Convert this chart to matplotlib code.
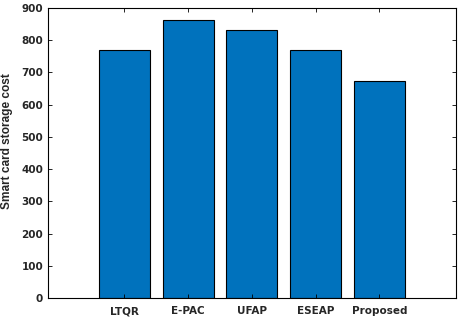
import matplotlib
matplotlib.use("Agg")
import matplotlib.pyplot as plt

categories = ["LTQR", "E-PAC", "UFAP", "ESEAP", "Proposed"]
values = [768, 864, 832, 768, 672]
yticks = [0, 100, 200, 300, 400, 500, 600, 700, 800, 900]

plt.rcParams['font.family'] = ['DejaVu Sans']
fig = plt.figure(figsize=(4.61, 3.18), dpi=100)
ax = fig.add_axes([0.104, 0.063, 0.885, 0.912])
x = list(range(len(categories)))
ax.bar(x, values, width=0.8, color="#0072BD", edgecolor="black", linewidth=0.8)
ax.set_xlim(-1.2, 5.2)
ax.set_ylim(0, 900)
ax.set_yticks(yticks)
ax.set_xticks(x)
ax.set_xticklabels(categories, fontsize=7.5, fontweight='bold', color='#262626')
ax.set_yticklabels([str(t) for t in yticks], fontsize=7.5, fontweight='bold', color='#262626')
ax.set_ylabel("Smart card storage cost", fontsize=8.6, fontweight='bold', color='#262626',
              family=['Liberation Sans'])
ax.yaxis.set_label_coords(-0.085, 0.54)
ax.tick_params(direction='in', top=True, right=True, length=3, width=0.6)
ax.tick_params(axis='x', pad=6)
for s in ax.spines.values():
    s.set_linewidth(0.8)
fig.savefig("out.png", dpi=100)
